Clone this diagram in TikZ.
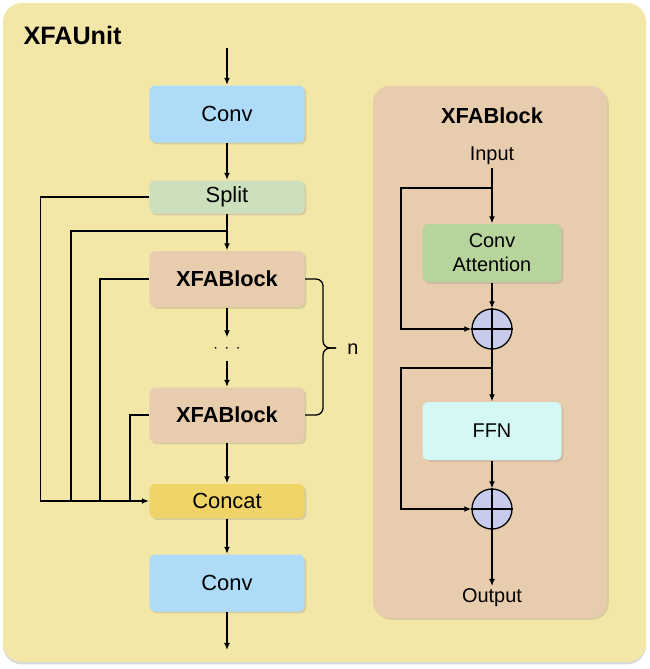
\documentclass[tikz,border=0pt]{standalone}
\usepackage{fontspec}
\setmainfont{Liberation Sans}
\usetikzlibrary{positioning}
\usetikzlibrary{shadows}
\usetikzlibrary{calc}
\usetikzlibrary{arrows.meta}
\definecolor{UnitBack}{RGB}{243,231,168}
\definecolor{ConvBlue}{RGB}{174,220,248}
\definecolor{SplitGreen}{RGB}{204,224,190}
\definecolor{BlockTan}{RGB}{232,204,174}
\definecolor{ConcatGold}{RGB}{240,212,104}
\definecolor{AttnGreen}{RGB}{182,212,156}
\definecolor{FFNCyan}{RGB}{212,248,244}
\definecolor{PlusLav}{RGB}{200,204,236}

\begin{document}
\begin{tikzpicture}[x=0.03cm,y=-0.03cm,>={Latex[length=6pt,width=5pt]},line width=1.1pt,
		softshadow/.style={drop shadow={opacity=0.25,shadow xshift=1.5pt,shadow yshift=-1.5pt}},
		unitbox/.style={rectangle,rounded corners=5pt,minimum width=4.65cm,inner sep=0pt,softshadow,font=\fontsize{18.7}{20}\selectfont},
		subbox/.style={rectangle,rounded corners=5pt,minimum width=4.17cm,minimum height=1.74cm,inner sep=0pt,softshadow,align=center,font=\fontsize{17}{20.5}\selectfont},
		plus/.style={circle,draw,fill=PlusLav,minimum size=1.2cm,inner sep=0pt},
		label/.style={inner sep=2pt,font=\fontsize{17}{20}\selectfont}]
	\useasboundingbox (0,0) rectangle (650,669);
	% backgrounds
	\path[fill=UnitBack,rounded corners=16pt,drop shadow={opacity=0.3,shadow xshift=0pt,shadow yshift=-2pt}] (3,3) rectangle (646,662);
	\path[fill=BlockTan,rounded corners=14pt,softshadow] (373,86) rectangle (607,618);
	\node[anchor=west,font=\bfseries\fontsize{21.5}{24}\selectfont] (unit) at (19,35) {XFAUnit};

	% left column
	\node[unitbox,fill=ConvBlue,minimum height=1.71cm] (convin) at (227,114) {Conv};
	\node[unitbox,fill=SplitGreen,minimum height=0.99cm] (split) at (227,197) {Split};
	\node[unitbox,fill=BlockTan,minimum height=1.68cm,font=\bfseries\fontsize{18.6}{20}\selectfont] (blkA) at (227,279) {XFABlock};
	\node[inner sep=0pt,minimum height=0.66cm,font=\fontsize{15}{14}\selectfont] (dots) at (227,349) {$\cdot\,\cdot\,\cdot$};
	\node[unitbox,fill=BlockTan,minimum height=1.65cm,font=\bfseries\fontsize{18.6}{20}\selectfont] (blkB) at (227,415) {XFABlock};
	\node[unitbox,fill=ConcatGold,minimum height=1.02cm] (concat) at (227,501) {Concat};
	\node[unitbox,fill=ConvBlue,minimum height=1.71cm] (convout) at (227,583) {Conv};
	\node[label] (n) at (353,349) {n};

	\coordinate (in) at (227,48);
	\coordinate (out) at (227,650);
	\coordinate (sp) at (227,231);
	\coordinate (c1) at (71,501);
	\coordinate (c2) at (100,501);
	\coordinate (c3) at (130,501);
	\coordinate (tip) at (336,348);

	\draw[->] (in) -- (convin);
	\draw[->] (convin) -- (split);
	\draw[->] (split) -- (blkA);
	\draw[->] (blkA) -- (dots);
	\draw[->] (dots) -- (blkB);
	\draw[->] (blkB) -- (concat);
	\draw[->] (concat) -- (convout);
	\draw[->] (convout) -- (out);

	\draw[->] (split.west) -- ++(-108,0) |- (concat.west);
	\draw (sp) -| (c1);
	\draw (blkA.west) -| (c2);
	\draw (blkB.west) -| (c3);

	\draw[rounded corners=6pt] (blkA.east) -- (323,279) -- (323,348) -- (tip);
	\draw[rounded corners=6pt] (blkB.east) -- (323,415) -- (323,348) -- (tip);

	% right panel
	\node[label,font=\bfseries\fontsize{18.6}{20}\selectfont] (blktitle) at (492,116) {XFABlock};
	\node[label] (input) at (492,156) {Input};
	\node[subbox,fill=AttnGreen] (attn) at (492,253) {Conv\\Attention};
	\node[plus] (addA) at (492,329) {};
	\node[subbox,fill=FFNCyan] (ffn) at (492,431) {FFN};
	\node[plus] (addB) at (492,509) {};
	\node[label] (output) at (492,598) {Output};

	\coordinate (brA) at (492,188);
	\coordinate (brB) at (492,368);

	\draw[->] (input) -- (attn);
	\draw[->] (brA) -- (401,188) |- (addA.west);
	\draw[->] (attn) -- (addA);
	\draw[->] (addA) -- (ffn);
	\draw[->] (brB) -- (401,368) |- (addB.west);
	\draw[->] (ffn) -- (addB);
	\draw[->] (addB) -- (output);
	\draw (addA.north) -- (addA.south) (addA.west) -- (addA.east);
	\draw (addB.north) -- (addB.south) (addB.west) -- (addB.east);
\end{tikzpicture}
\end{document}
